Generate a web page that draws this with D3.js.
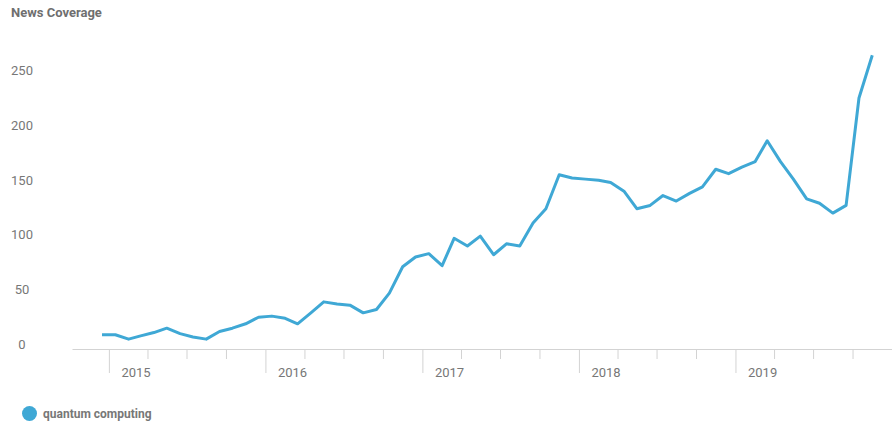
<!DOCTYPE html>
<html>
<head>
<meta charset="utf-8">
<script src="https://cdn.jsdelivr.net/npm/d3@7"></script>
<style>
  body { margin: 0; background: #fff; }
  svg { font-family: Roboto, "Open Sans", sans-serif; }
</style>
</head>
<body>
<div id="chart"></div>
<script>
// Chart size
const width = 892, height = 423;

// Monthly news coverage counts, Dec 2014 .. Nov 2019
const startYear = 2014, startMonth = 11;
const values = [
    13, 13, 9, 12, 15, 19, 14, 11, 9, 16, 19, 23,
    29, 30, 28, 23, 33, 43, 41, 40, 33, 36, 51, 75,
    84, 87, 76, 101, 94, 103, 86, 96, 94, 115, 128, 159,
    156, 155, 154, 152, 144, 128, 131, 140, 135, 142, 148, 164,
    160, 166, 171, 190, 171, 155, 137, 133, 124, 131, 229, 268
];
const yTicks = [0, 50, 100, 150, 200, 250];
const seriesName = "quantum computing";
const title = "News Coverage";

const lineColor = "#3fa8d5";
const textColor = "#777";
const axisColor = "#d3d3d3";

// Points sit in the middle of each month
const data = values.map(function (v, i) {
    return { date: new Date(startYear, startMonth + i, 16), value: v };
});

const svg = d3.select("#chart").append("svg")
    .attr("width", width)
    .attr("height", height);

// Scales
const x = d3.scaleTime()
    .domain([new Date(2014, 9, 7), new Date(2020, 0, 1)])
    .range([72, 892]);

const y = d3.scaleLinear()
    .domain([0, 250])
    .range([349, 75]);

// Title
svg.append("text")
    .attr("x", 11)
    .attr("y", 17)
    .text(title)
    .style("font-size", "13px")
    .style("font-weight", "bold")
    .style("fill", "#6f6f6f");

// Y labels (no axis line, centred labels)
svg.selectAll(".ylab")
    .data(yTicks)
    .join("text")
    .attr("class", "ylab")
    .attr("x", 22)
    .attr("y", function (d) { return y(d); })
    .attr("text-anchor", "middle")
    .text(function (d) { return d; })
    .style("font-size", "13px")
    .style("fill", textColor);

// Quarterly ticks, but not the one sitting on the right edge
const end = x.domain()[1];
const quarterTicks = x.ticks(d3.timeMonth.every(3)).filter(function (d) { return d < end; });

// X axis, long ticks at year starts
const xAxis = svg.append("g")
    .attr("transform", "translate(0," + y(0) + ")")
    .call(d3.axisBottom(x)
        .tickValues(quarterTicks)
        .tickSize(10)
        .tickSizeOuter(0)
        .tickFormat(function (d) { return d.getMonth() === 0 ? d.getFullYear() : ""; }));

xAxis.select(".domain").attr("stroke", axisColor);
xAxis.selectAll(".tick line")
    .attr("stroke", axisColor)
    .attr("y2", function (d) { return d.getMonth() === 0 ? 24 : 10; });
xAxis.selectAll(".tick text")
    .attr("text-anchor", "start")
    .attr("x", 12)
    .attr("y", 28)
    .attr("dy", 0)
    .style("font-family", "Roboto, sans-serif")
    .style("font-size", "13px")
    .style("fill", textColor);

// The line
const line = d3.line()
    .x(function (d) { return x(d.date); })
    .y(function (d) { return y(d.value); });

svg.append("path")
    .datum(data)
    .attr("d", line)
    .attr("fill", "none")
    .attr("stroke", lineColor)
    .attr("stroke-width", 3)
    .attr("stroke-linejoin", "round");

// Legend
svg.append("circle")
    .attr("cx", 29.5)
    .attr("cy", 413.5)
    .attr("r", 7.5)
    .style("fill", lineColor);

svg.append("text")
    .attr("x", 43)
    .attr("y", 417.5)
    .text(seriesName)
    .style("font-size", "12px")
    .style("font-weight", "bold")
    .style("fill", textColor);
</script>
</body>
</html>
